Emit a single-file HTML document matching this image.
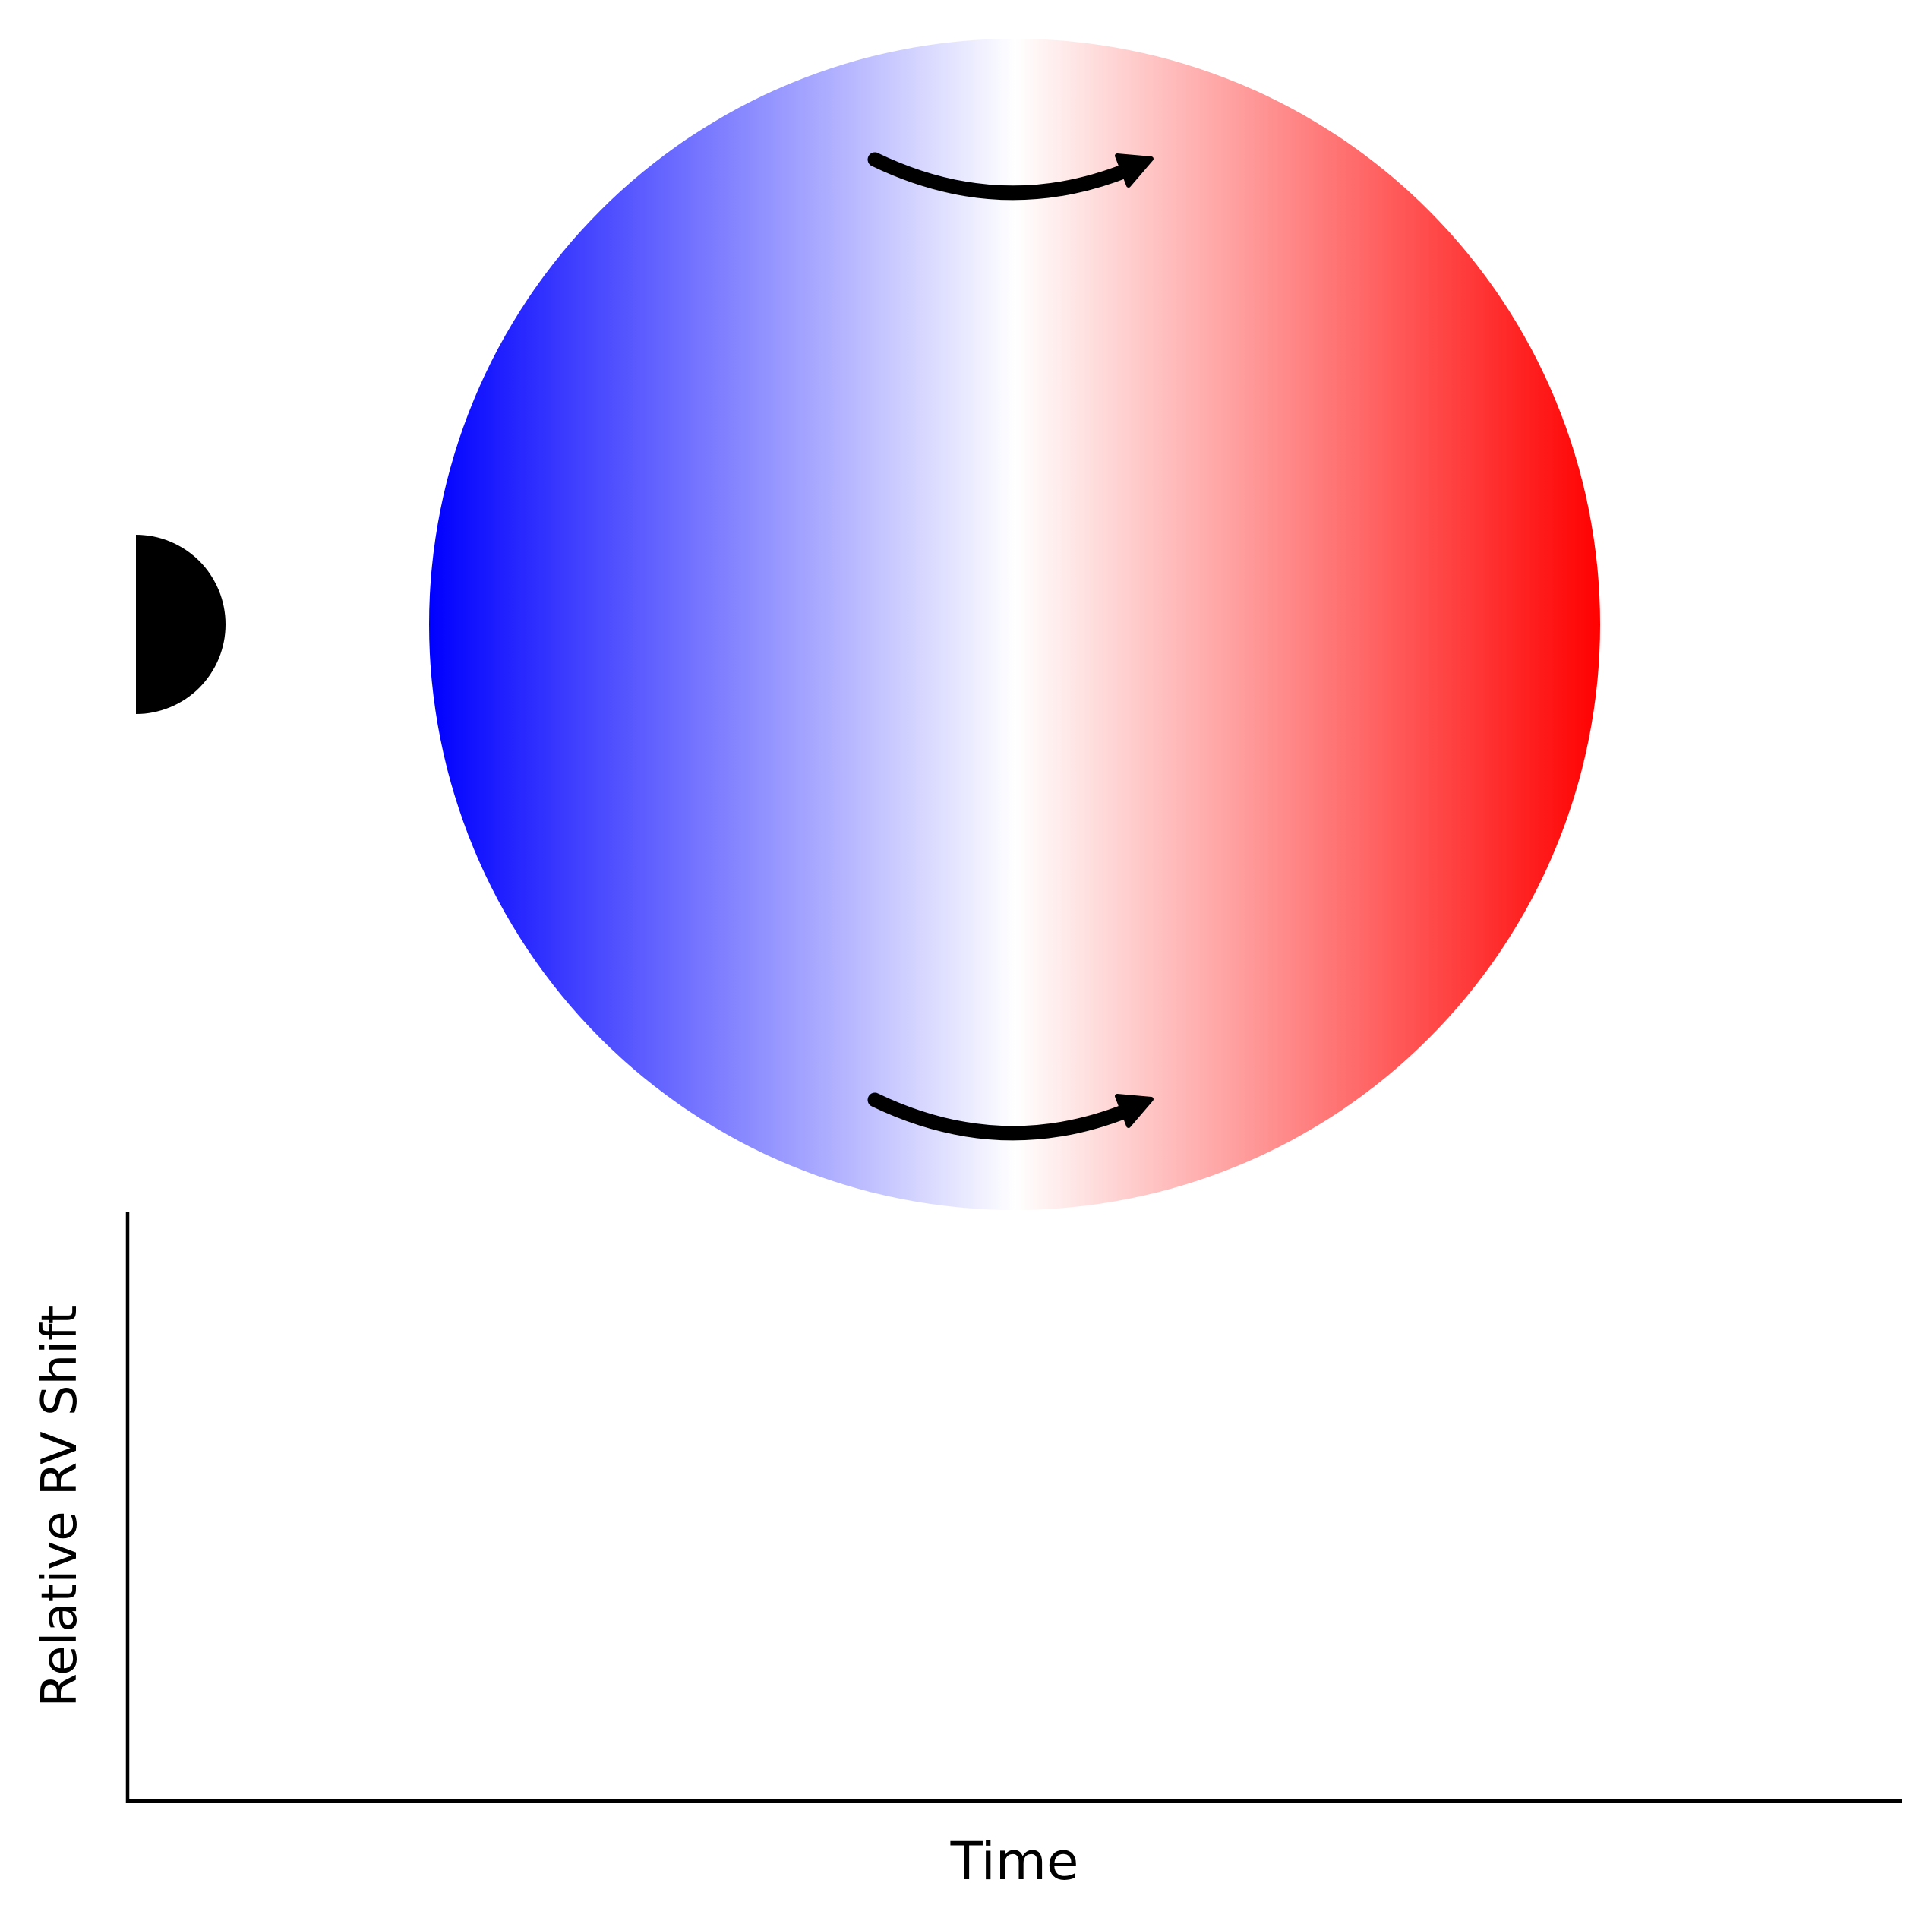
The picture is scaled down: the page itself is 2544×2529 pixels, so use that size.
<!DOCTYPE html>
<html><head><meta charset="utf-8"><style>
html,body{margin:0;padding:0;background:#fff;}
svg{display:block;}
text{font-family:"DejaVu Sans","Liberation Sans",sans-serif;}
</style></head><body>
<svg width="2544" height="2529" viewBox="0 0 2544 2529" xmlns="http://www.w3.org/2000/svg">
<defs>
<linearGradient id="bwr" x1="566" y1="0" x2="2108" y2="0" gradientUnits="userSpaceOnUse">
<stop offset="0" stop-color="#0000ff"/>
<stop offset="0.5" stop-color="#ffffff"/>
<stop offset="1" stop-color="#ff0000"/>
</linearGradient>
</defs>
<circle cx="1336" cy="822" r="771" fill="url(#bwr)"/>
<path d="M179,704 A118,118 0 0 1 179,940 Z" fill="#000"/>
<g>
<path d="M1152,210 Q1318,290 1484,224" fill="none" stroke="#000" stroke-width="19" stroke-linecap="round"/>
<polygon points="1471,205 1516,209 1486,244" fill="#000" stroke="#000" stroke-width="6" stroke-linejoin="round"/>
</g>
<g transform="translate(0,1238)">
<path d="M1152,210 Q1318,290 1484,224" fill="none" stroke="#000" stroke-width="19" stroke-linecap="round"/>
<polygon points="1471,205 1516,209 1486,244" fill="#000" stroke="#000" stroke-width="6" stroke-linejoin="round"/>
</g>
<line x1="168" y1="1595" x2="168" y2="2373" stroke="#000" stroke-width="4.5"/>
<line x1="166" y1="2371" x2="2504" y2="2371" stroke="#000" stroke-width="4.5"/>
<text x="1336" y="2474" font-size="69" text-anchor="middle">Time</text>
<text x="100" y="1983" font-size="64" text-anchor="middle" transform="rotate(-90 100 1983)">Relative RV Shift</text>
</svg>
</body></html>
